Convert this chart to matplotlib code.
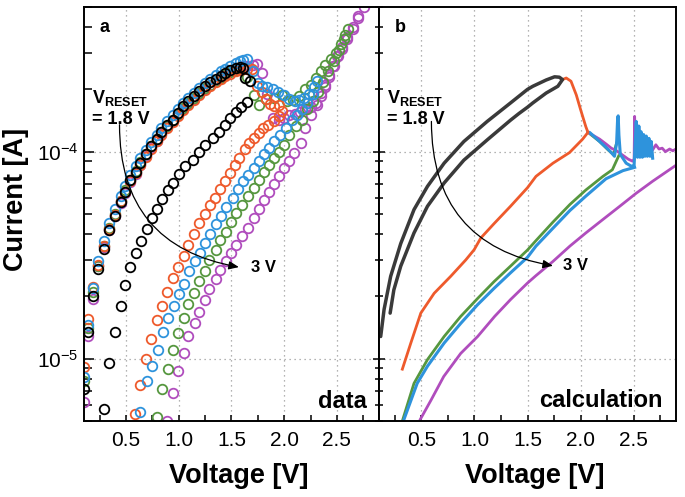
import numpy as np
import matplotlib
matplotlib.use("Agg")
import matplotlib.pyplot as plt
from matplotlib.ticker import MultipleLocator, FormatStrFormatter, LogLocator, NullFormatter

plt.rcParams["font.family"] = ["Liberation Sans", "DejaVu Sans"]
plt.rcParams["mathtext.fontset"] = "custom"
plt.rcParams["mathtext.rm"] = "Liberation Sans"
plt.rcParams["mathtext.bf"] = "Liberation Sans:bold"
plt.rcParams["mathtext.it"] = "Liberation Sans:italic"

# ── colours ──────────────────────────────────────────────────────────────────
C_BLK = "#000000"
C_RED = "#EE5A2C"
C_BLU = "#2E93DC"
C_GRN = "#56973F"
C_PUR = "#B04DBD"
C_CALC_BLK = "#3a3a3a"

# ── (a) measured data ────────────────────────────────────────────────────────
# low-resistance forward branch, common voltage points
v_up = [0.10, 0.14, 0.19, 0.235, 0.29, 0.34, 0.39, 0.45, 0.49, 0.54, 0.59, 0.635,
        0.69, 0.74, 0.79, 0.835, 0.89, 0.94, 0.99, 1.04, 1.09, 1.14, 1.19, 1.25,
        1.30, 1.35, 1.40, 1.44, 1.49, 1.54, 1.58, 1.61]
blk_up_i = [7.1e-6, 1.34e-5, 2.0e-5, 2.7e-5, 3.4e-5, 4.2e-5, 4.9e-5, 5.7e-5, 6.4e-5,
            7.3e-5, 8.0e-5, 8.8e-5, 9.7e-5, 1.06e-4, 1.15e-4, 1.25e-4, 1.34e-4, 1.43e-4,
            1.54e-4, 1.66e-4, 1.75e-4, 1.85e-4, 1.96e-4, 2.07e-4, 2.16e-4, 2.25e-4,
            2.33e-4, 2.40e-4, 2.47e-4, 2.54e-4, 2.57e-4, 2.55e-4]
blu_up_i = [8.2e-6, 1.45e-5, 2.2e-5, 2.95e-5, 3.7e-5, 4.5e-5, 5.3e-5, 6.1e-5, 6.8e-5,
            7.7e-5, 8.5e-5, 9.3e-5, 1.02e-4, 1.11e-4, 1.2e-4, 1.3e-4, 1.4e-4, 1.5e-4,
            1.61e-4, 1.72e-4, 1.82e-4, 1.93e-4, 2.04e-4, 2.15e-4, 2.25e-4, 2.35e-4,
            2.44e-4, 2.52e-4, 2.6e-4, 2.68e-4, 2.74e-4, 2.78e-4]
red_up_i = [9.1e-6, 1.55e-5, 2.23e-5, 2.85e-5, 3.5e-5, 4.25e-5, 4.95e-5, 5.75e-5, 6.4e-5,
            7.2e-5, 7.9e-5, 8.6e-5, 9.4e-5, 1.03e-4, 1.12e-4, 1.21e-4, 1.3e-4, 1.39e-4,
            1.49e-4, 1.59e-4, 1.68e-4, 1.78e-4, 1.88e-4, 1.98e-4, 2.07e-4, 2.16e-4,
            2.24e-4, 2.31e-4, 2.38e-4, 2.44e-4, 2.48e-4, 2.5e-4]
grn_up_i = [7.8e-6, 1.4e-5, 2.1e-5, 2.8e-5, 3.5e-5, 4.3e-5, 5.0e-5, 5.8e-5, 6.5e-5,
            7.3e-5, 8.1e-5, 8.9e-5, 9.7e-5, 1.06e-4, 1.15e-4, 1.24e-4, 1.33e-4, 1.42e-4,
            1.52e-4, 1.62e-4, 1.72e-4, 1.82e-4, 1.92e-4, 2.02e-4, 2.11e-4, 2.2e-4,
            2.28e-4, 2.36e-4, 2.43e-4, 2.49e-4, 2.52e-4, 2.5e-4]
pur_up_i = [6.2e-6, 1.28e-5, 1.95e-5, 2.8e-5, 3.45e-5, 4.2e-5, 4.9e-5, 5.65e-5, 6.3e-5,
            7.1e-5, 7.8e-5, 8.6e-5, 9.5e-5, 1.04e-4, 1.13e-4, 1.22e-4, 1.31e-4, 1.4e-4,
            1.5e-4, 1.6e-4, 1.7e-4, 1.8e-4, 1.9e-4, 2.0e-4, 2.1e-4, 2.19e-4,
            2.28e-4, 2.36e-4, 2.44e-4, 2.5e-4, 2.55e-4, 2.58e-4]

# after the reset point, forward sweep continues to V_RESET
blk_post_v = [1.63, 1.68]
blk_post_i = [2.27e-4, 2.2e-4]
red_post_v = [1.65, 1.69, 1.745, 1.79, 1.825, 1.87, 1.905, 1.95, 1.98]
red_post_i = [2.52e-4, 2.5e-4, 2.07e-4, 1.95e-4, 1.79e-4, 1.7e-4, 1.66e-4, 1.69e-4, 1.57e-4]
blu_post_v = [1.65, 1.70, 1.75, 1.79, 1.84, 1.89, 1.945, 2.0, 2.05, 2.10, 2.14, 2.19,
              2.24, 2.28, 2.31]
blu_post_i = [2.81e-4, 2.45e-4, 2.15e-4, 2.07e-4, 2.05e-4, 2.0e-4, 1.95e-4, 1.88e-4,
              1.8e-4, 1.75e-4, 1.78e-4, 1.82e-4, 1.9e-4, 2.05e-4, 2.2e-4]
grn_post_v = [1.65, 1.71, 1.76, 1.825, 1.90, 1.98, 2.03, 2.08, 2.14, 2.20, 2.25, 2.30,
              2.35, 2.39, 2.44, 2.49, 2.54, 2.58, 2.61]
grn_post_i = [2.3e-4, 1.88e-4, 1.69e-4, 1.79e-4, 1.82e-4, 1.88e-4, 1.75e-4, 1.78e-4,
              1.85e-4, 2.0e-4, 2.1e-4, 2.27e-4, 2.44e-4, 2.63e-4, 2.8e-4, 3.0e-4,
              3.3e-4, 3.65e-4, 3.9e-4]
pur_post_v = [1.65, 1.70, 1.745, 1.79, 1.84, 1.89, 1.95, 2.0, 2.05, 2.10, 2.15, 2.20,
              2.25, 2.30, 2.35, 2.39, 2.43, 2.47, 2.51, 2.55, 2.60, 2.65, 2.70, 2.76, 2.82]
pur_post_i = [2.6e-4, 2.63e-4, 2.65e-4, 2.4e-4, 1.9e-4, 1.45e-4, 1.42e-4, 1.45e-4,
              1.5e-4, 1.52e-4, 1.55e-4, 1.6e-4, 1.65e-4, 1.72e-4, 1.85e-4, 2.05e-4,
              2.3e-4, 2.6e-4, 2.9e-4, 3.2e-4, 3.6e-4, 4.0e-4, 4.5e-4, 5.0e-4, 5.6e-4]

# return sweep back to 0 V
blk_ret_v = [1.65, 1.59, 1.54, 1.49, 1.44, 1.38, 1.32, 1.25, 1.19, 1.13, 1.06, 1.0,
             0.94, 0.90, 0.84, 0.79, 0.75, 0.70, 0.645, 0.59, 0.54, 0.49, 0.45, 0.39,
             0.34, 0.29]
blk_ret_i = [1.73e-4, 1.64e-4, 1.55e-4, 1.45e-4, 1.35e-4, 1.25e-4, 1.16e-4, 1.08e-4,
             1.0e-4, 9.1e-5, 8.5e-5, 7.8e-5, 7.06e-5, 6.5e-5, 5.9e-5, 5.3e-5, 4.78e-5,
             4.24e-5, 3.7e-5, 3.24e-5, 2.76e-5, 2.28e-5, 1.8e-5, 1.35e-5, 9.5e-6, 5.7e-6]
red_ret_v = [1.95, 1.90, 1.85, 1.80, 1.76, 1.71, 1.67, 1.63, 1.57, 1.53, 1.49, 1.44,
             1.39, 1.345, 1.30, 1.25, 1.19, 1.145, 1.09, 1.05, 0.99, 0.94, 0.89, 0.84,
             0.79, 0.74, 0.69, 0.635, 0.58]
red_ret_i = [1.48e-4, 1.4e-4, 1.34e-4, 1.3e-4, 1.23e-4, 1.16e-4, 1.1e-4, 1.03e-4,
             9.3e-5, 8.6e-5, 7.9e-5, 7.2e-5, 6.6e-5, 6.0e-5, 5.5e-5, 5.0e-5, 4.5e-5,
             4.0e-5, 3.55e-5, 3.15e-5, 2.77e-5, 2.45e-5, 2.1e-5, 1.8e-5, 1.53e-5,
             1.25e-5, 1.0e-5, 7.5e-6, 5.4e-6]
blu_ret_v = [2.27, 2.22, 2.17, 2.12, 2.07, 2.02, 1.96, 1.90, 1.86, 1.81, 1.76, 1.71,
             1.66, 1.61, 1.56, 1.51, 1.45, 1.40, 1.35, 1.30, 1.25, 1.20, 1.15, 1.10,
             1.05, 1.0, 0.95, 0.90, 0.85, 0.80, 0.75, 0.70, 0.635]
blu_ret_i = [1.9e-4, 1.72e-4, 1.6e-4, 1.5e-4, 1.42e-4, 1.3e-4, 1.2e-4, 1.12e-4,
             1.04e-4, 9.7e-5, 9.0e-5, 8.3e-5, 7.7e-5, 7.2e-5, 6.6e-5, 6.0e-5, 5.4e-5,
             4.9e-5, 4.45e-5, 4.0e-5, 3.62e-5, 3.25e-5, 2.95e-5, 2.65e-5, 2.3e-5,
             2.06e-5, 1.8e-5, 1.57e-5, 1.34e-5, 1.1e-5, 9.2e-6, 7.8e-6, 5.5e-6]
grn_ret_v = [2.57, 2.52, 2.47, 2.42, 2.37, 2.32, 2.27, 2.22, 2.17, 2.11, 2.05, 2.0,
             1.95, 1.90, 1.86, 1.81, 1.76, 1.71, 1.66, 1.60, 1.54, 1.50, 1.45, 1.395,
             1.35, 1.29, 1.25, 1.19, 1.14, 1.09, 1.05, 0.99, 0.945, 0.90, 0.84, 0.79]
grn_ret_i = [3.5e-4, 3.1e-4, 2.75e-4, 2.45e-4, 2.18e-4, 1.95e-4, 1.75e-4, 1.6e-4,
             1.43e-4, 1.33e-4, 1.2e-4, 1.08e-4, 1.0e-4, 9.3e-5, 8.65e-5, 8.0e-5,
             7.3e-5, 6.7e-5, 6.1e-5, 5.55e-5, 5.05e-5, 4.56e-5, 4.1e-5, 3.73e-5,
             3.34e-5, 3.0e-5, 2.65e-5, 2.37e-5, 2.08e-5, 1.84e-5, 1.57e-5, 1.33e-5,
             1.1e-5, 8.9e-6, 7.1e-6, 5.2e-6]
pur_ret_v = [2.70, 2.65, 2.60, 2.55, 2.50, 2.46, 2.43, 2.39, 2.35, 2.31, 2.25, 2.20,
             2.16, 2.09, 2.05, 2.0, 1.95, 1.90, 1.86, 1.81, 1.76, 1.71, 1.655, 1.60,
             1.545, 1.50, 1.45, 1.395, 1.35, 1.29, 1.25, 1.195, 1.15, 1.09, 1.05, 0.99,
             0.94, 0.89]
pur_ret_i = [4.4e-4, 3.9e-4, 3.5e-4, 3.15e-4, 2.9e-4, 2.6e-4, 2.35e-4, 2.1e-4,
             1.92e-4, 1.69e-4, 1.51e-4, 1.3e-4, 1.1e-4, 9.9e-5, 9.0e-5, 8.3e-5, 7.6e-5,
             7.0e-5, 6.4e-5, 5.85e-5, 5.3e-5, 4.8e-5, 4.3e-5, 3.9e-5, 3.55e-5, 3.24e-5,
             2.95e-5, 2.69e-5, 2.43e-5, 2.17e-5, 1.93e-5, 1.69e-5, 1.49e-5, 1.28e-5,
             1.07e-5, 8.7e-6, 6.8e-6, 5.0e-6]

# ── (b) calculation ──────────────────────────────────────────────────────────
cb_v = [0.116, 0.148, 0.21, 0.305, 0.43, 0.557, 0.714, 0.90, 1.12, 1.34, 1.50,
        1.55, 1.676, 1.755, 1.80, 1.83, 1.786, 1.676, 1.55, 1.50, 1.42, 1.34, 1.12,
        0.90, 0.714, 0.557, 0.43, 0.305, 0.24, 0.205]
cb_i = [1.28e-5, 1.73e-5, 2.5e-5, 3.6e-5, 5.25e-5, 6.8e-5, 8.8e-5, 1.12e-4,
        1.4e-4, 1.72e-4, 2.0e-4, 2.07e-4, 2.22e-4, 2.3e-4, 2.29e-4, 2.23e-4, 2.07e-4,
        1.92e-4, 1.72e-4, 1.64e-4, 1.53e-4, 1.42e-4, 1.14e-4, 9.1e-5, 7.06e-5,
        5.45e-5, 4.05e-5, 2.8e-5, 2.15e-5, 1.66e-5]
cr_v = [1.83, 1.865, 1.91, 1.96, 2.0, 2.05, 2.07, 2.02, 1.896, 1.74, 1.58, 1.50, 1.34,
        1.186, 1.06, 0.997, 0.918, 0.776, 0.62, 0.494, 0.40, 0.32]
cr_i = [2.23e-4, 2.27e-4, 2.19e-4, 1.88e-4, 1.6e-4, 1.32e-4, 1.24e-4, 1.15e-4, 9.9e-5,
        8.8e-5, 7.6e-5, 6.7e-5, 5.45e-5, 4.5e-5, 3.83e-5, 3.36e-5, 3.0e-5, 2.5e-5,
        2.07e-5, 1.66e-5, 1.19e-5, 8.9e-6]
cg_fwd_v = [2.07, 2.18, 2.26, 2.31, 2.34]
cg_fwd_i = [1.24e-4, 1.12e-4, 1.02e-4, 9.7e-5, 1.1e-4]
cg_ret_v = [2.36, 2.30, 2.21, 2.05, 1.90, 1.74, 1.58, 1.50, 1.34, 1.186, 1.028, 0.87,
            0.714, 0.557, 0.43, 0.32]
cg_ret_i = [9.55e-5, 8.18e-5, 7.59e-5, 6.53e-5, 5.56e-5, 4.57e-5, 3.72e-5, 3.35e-5,
            2.8e-5, 2.36e-5, 1.95e-5, 1.6e-5, 1.28e-5, 9.9e-6, 7.6e-6, 5.0e-6]
cp_fwd_v = [2.07, 2.18, 2.24, 2.29, 2.34, 2.40, 2.45, 2.49, 2.505, 2.51, 2.52, 2.53,
            2.54, 2.55, 2.56, 2.57, 2.58, 2.59, 2.60, 2.61, 2.62, 2.63, 2.64, 2.66,
            2.68, 2.71, 2.74, 2.77, 2.80, 2.84, 2.87, 2.90]
cp_fwd_i = [1.24e-4, 1.15e-4, 1.09e-4, 1.04e-4, 1.01e-4, 9.6e-5, 9.2e-5, 9.0e-5,
            9.2e-5, 1.48e-4, 9.6e-5, 1.35e-4, 9.6e-5, 1.28e-4, 9.7e-5, 1.2e-4, 9.8e-5,
            1.15e-4, 9.9e-5, 1.1e-4, 1.0e-4, 1.07e-4, 1.0e-4, 1.05e-4, 1.02e-4, 1.08e-4,
            1.03e-4, 1.04e-4, 1.0e-4, 1.03e-4, 1.01e-4, 1.03e-4]
cp_ret_v = [2.90, 2.68, 2.525, 2.37, 2.21, 2.05, 1.90, 1.74, 1.58, 1.50, 1.34, 1.19,
            1.03, 0.87, 0.71, 0.59, 0.49]
cp_ret_i = [8.6e-5, 7.2e-5, 6.3e-5, 5.45e-5, 4.7e-5, 4.05e-5, 3.5e-5, 2.95e-5, 2.52e-5,
            2.32e-5, 1.93e-5, 1.6e-5, 1.28e-5, 1.06e-5, 8.2e-6, 6.3e-6, 5.1e-6]
cu_fwd_v = [2.07, 2.085, 2.18, 2.24, 2.29, 2.32, 2.34, 2.35, 2.355, 2.362, 2.375, 2.43,
            2.48, 2.505, 2.515, 2.525, 2.537, 2.55, 2.56, 2.57, 2.583, 2.595, 2.607,
            2.62, 2.63, 2.645, 2.655, 2.667, 2.68]
cu_fwd_i = [1.24e-4, 1.24e-4, 1.12e-4, 1.05e-4, 9.9e-5, 9.5e-5, 1.1e-4, 1.46e-4,
            1.49e-4, 1.2e-4, 9.7e-5, 8.8e-5, 8.5e-5, 8.6e-5, 1.1e-4, 1.4e-4, 9.4e-5,
            1.33e-4, 9.4e-5, 1.25e-4, 9.4e-5, 1.21e-4, 9.5e-5, 1.19e-4, 9.5e-5, 1.16e-4,
            9.5e-5, 1.12e-4, 9.3e-5]
cu_ret_v = [2.51, 2.40, 2.24, 2.05, 1.90, 1.74, 1.58, 1.50, 1.34, 1.186, 1.028, 0.87,
            0.714, 0.557, 0.46, 0.33]
cu_ret_i = [8.4e-5, 8.1e-5, 7.4e-5, 6.1e-5, 5.2e-5, 4.27e-5, 3.5e-5, 3.09e-5, 2.6e-5,
            2.19e-5, 1.82e-5, 1.48e-5, 1.19e-5, 9.2e-6, 7.6e-6, 5.0e-6]

# arrow ends (V, I) for the V_RESET annotation
arrow_a = [(0.437, 1.35e-4), (1.57, 2.77e-5)]
arrow_b = [(0.594, 1.40e-4), (1.74, 2.81e-5)]

# ── figure ───────────────────────────────────────────────────────────────────
W, H = 685, 497
fig = plt.figure(figsize=(W / 100, H / 100), dpi=100)
ax1 = fig.add_axes([84 / W, 76 / H, 295 / W, 414 / H])
ax2 = fig.add_axes([379 / W, 76 / H, 297 / W, 414 / H])

for ax in (ax1, ax2):
    ax.set_yscale("log")
    ax.set_xlim(0.1, 2.9)
    ax.set_ylim(5e-6, 5e-4)
    ax.xaxis.set_major_locator(MultipleLocator(0.5))
    ax.xaxis.set_minor_locator(MultipleLocator(0.25))
    ax.xaxis.set_major_formatter(FormatStrFormatter("%.1f"))
    ax.yaxis.set_major_locator(LogLocator(base=10))
    ax.yaxis.set_minor_locator(LogLocator(base=10, subs=np.arange(2, 10)))
    ax.yaxis.set_minor_formatter(NullFormatter())
    ax.grid(True, which="major", ls=(0, (1, 3)), color="#9a9a9a", lw=0.9)
    ax.set_axisbelow(True)
    for s in ax.spines.values():
        s.set_linewidth(1.4)
    ax.tick_params(axis="x", which="both", direction="in", length=4.5, width=1.1,
                   labelsize=15, pad=7, top=False)

ax1.tick_params(axis="y", which="major", direction="in", length=7, width=1.1,
                labelsize=15, right=False, pad=4)
ax1.tick_params(axis="y", which="minor", direction="in", length=6, width=1.1, right=False)
ax2.tick_params(axis="y", which="major", direction="inout", length=9, width=1.1,
                labelleft=False, right=False)
ax2.tick_params(axis="y", which="minor", direction="inout", length=6, width=1.1,
                right=False)

# panel a: circles
mk = dict(ls="none", marker="o", ms=6.9, mfc="none", mew=1.3)
series_a = [
    (C_PUR, pur_up_i, pur_post_v, pur_post_i, pur_ret_v, pur_ret_i),
    (C_GRN, grn_up_i, grn_post_v, grn_post_i, grn_ret_v, grn_ret_i),
    (C_RED, red_up_i, red_post_v, red_post_i, red_ret_v, red_ret_i),
    (C_BLU, blu_up_i, blu_post_v, blu_post_i, blu_ret_v, blu_ret_i),
    (C_BLK, blk_up_i, blk_post_v, blk_post_i, blk_ret_v, blk_ret_i),
]
for col, up_i, pv, pi, rv, ri in series_a:
    ax1.plot(v_up + pv + rv, up_i + pi + ri, mec=col, clip_on=True, **mk)

# panel b: lines
ax2.plot(cg_fwd_v, cg_fwd_i, color=C_GRN, lw=2.0)
ax2.plot(cg_ret_v, cg_ret_i, color=C_GRN, lw=2.0)
ax2.plot(cp_fwd_v, cp_fwd_i, color=C_PUR, lw=2.0)
ax2.plot(cp_ret_v, cp_ret_i, color=C_PUR, lw=2.0)
ax2.plot(cu_fwd_v, cu_fwd_i, color=C_BLU, lw=2.2)
ax2.plot(cu_ret_v, cu_ret_i, color=C_BLU, lw=2.2)
ax2.plot(cr_v, cr_i, color=C_RED, lw=2.0)
ax2.plot(cb_v, cb_i, color=C_CALC_BLK, lw=2.5, solid_capstyle="round",
         solid_joinstyle="round")

# annotations
for ax, arr, x3 in ((ax1, arrow_a, 1.686), (ax2, arrow_b, 1.83)):
    ax.text(0.027, 0.768, r"$\mathbf{V}_{\mathbf{RESET}}$", transform=ax.transAxes,
            fontsize=13, fontweight="bold", ha="left", va="baseline")
    ax.text(0.027, 0.717, "= 1.8 V", transform=ax.transAxes, fontsize=13,
            fontweight="bold", ha="left", va="baseline")
    ax.annotate("", xy=arr[1], xytext=arr[0],
                arrowprops=dict(arrowstyle="-|>,head_length=0.6,head_width=0.25",
                                connectionstyle="arc3,rad=0.42", color="k", lw=0.9,
                                shrinkA=0, shrinkB=0))
    ax.text(x3, arr[1][1], "3 V", fontsize=12, fontweight="bold", ha="left",
            va="center")

ax1.text(0.054, 0.94, "a", transform=ax1.transAxes, fontsize=13, fontweight="bold",
         va="baseline")
ax2.text(0.054, 0.94, "b", transform=ax2.transAxes, fontsize=13, fontweight="bold",
         va="baseline")
ax1.text(0.96, 0.031, "data", transform=ax1.transAxes, fontsize=17, fontweight="bold",
         ha="right", va="baseline")
ax2.text(0.956, 0.034, "calculation", transform=ax2.transAxes, fontsize=17,
         fontweight="bold", ha="right", va="baseline")

fig.text(239 / W, 1 - 483 / H, "Voltage [V]", fontsize=19.5, fontweight="bold",
         ha="center", va="baseline")
fig.text(535 / W, 1 - 483 / H, "Voltage [V]", fontsize=19.5, fontweight="bold",
         ha="center", va="baseline")
fig.text(16 / W, 1 - 199 / H, "Current [A]", fontsize=19.5, fontweight="bold",
         rotation=90, ha="center", va="center")

fig.savefig("out.png", dpi=100)
